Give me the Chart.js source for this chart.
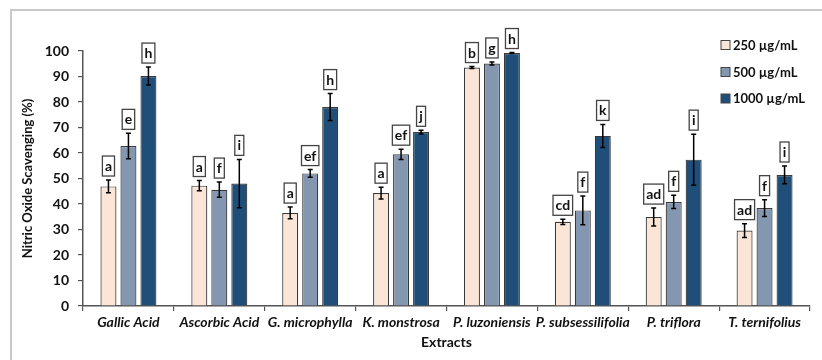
<!DOCTYPE html>
<html>
<head>
<meta charset="utf-8">
<script src="https://cdn.jsdelivr.net/npm/chart.js@4/dist/chart.umd.min.js"></script>
<style>
html,body{margin:0;padding:0;background:#fff;}
#wrap{width:822px;height:360px;position:relative;}
</style>
</head>
<body>
<div id="wrap"><canvas id="c" width="822" height="360"></canvas></div>
<script>
const categories = ['Gallic Acid','Ascorbic Acid','G. microphylla','K. monstrosa','P. luzoniensis','P. subsessilifolia','P. triflora','T. ternifolius'];
const seriesLabels = ['250 µg/mL','500 µg/mL','1000 µg/mL'];
const values250  = [46.9, 47.2, 36.5, 44.3, 93.5, 33.0, 34.9, 29.6];
const err250     = [2.5, 2.0, 2.3, 2.3, 0.4, 1.0, 3.5, 2.7];
const values500  = [62.7, 45.6, 52.0, 59.5, 95.1, 37.5, 40.8, 38.4];
const err500     = [5.0, 3.0, 1.5, 2.0, 0.6, 5.6, 2.6, 3.3];
const values1000 = [90.2, 48.0, 78.0, 68.2, 99.2, 66.7, 57.4, 51.4];
const err1000    = [3.5, 9.5, 5.3, 0.7, 0.2, 4.5, 10.0, 3.5];
const letters250  = ['a','a','a','a','b','cd','ad','ad'];
const letters500  = ['e','f','ef','ef','g','f','f','f'];
const letters1000 = ['h','i','h','j','h','k','i','i'];
const yTicks = [0,10,20,30,40,50,60,70,80,90,100];

const FONT = 'Lato, "Open Sans", "DejaVu Sans", sans-serif';
const colors = ['#FBE5D6','#8497B0','#1F4E79'];
const errs = [err250, err500, err1000];
const letters = [letters250, letters500, letters1000];

const framePlugin = {
  id: 'frame',
  beforeDraw(chart) {
    const ctx = chart.ctx;
    ctx.save();
    ctx.fillStyle = '#fff';
    ctx.fillRect(0, 0, chart.width, chart.height);
    ctx.strokeStyle = '#c8c8c8';
    ctx.lineWidth = 2;
    ctx.beginPath();
    ctx.moveTo(11, chart.height);
    ctx.lineTo(11, 10);
    ctx.lineTo(chart.width, 10);
    ctx.stroke();
    ctx.restore();
  }
};

const annotPlugin = {
  id: 'annot',
  afterDatasetsDraw(chart) {
    const ctx = chart.ctx;
    const ys = chart.scales.y;
    ctx.save();
    chart.data.datasets.forEach((ds, di) => {
      const meta = chart.getDatasetMeta(di);
      meta.data.forEach((bar, j) => {
        const v = ds.data[j];
        const e = errs[di][j];
        const x = bar.x;
        const yt = ys.getPixelForValue(v + e);
        const yb = ys.getPixelForValue(v - e);
        ctx.strokeStyle = '#000';
        ctx.lineWidth = 1.5;
        ctx.beginPath();
        ctx.moveTo(x, yt); ctx.lineTo(x, yb);
        ctx.moveTo(x - 2.5, yt); ctx.lineTo(x + 2.5, yt);
        ctx.moveTo(x - 2.5, yb); ctx.lineTo(x + 2.5, yb);
        ctx.stroke();
        const txt = letters[di][j];
        ctx.font = 'bold 14px ' + FONT;
        const tw = ctx.measureText(txt).width;
        const bw = Math.max(tw + 5, 9);
        const bh = 20;
        const bottom = yt - 4;
        const top = bottom - bh;
        ctx.fillStyle = '#fff';
        ctx.fillRect(x - bw / 2, top, bw, bh);
        ctx.strokeStyle = '#444';
        ctx.lineWidth = 1.3;
        ctx.strokeRect(x - bw / 2, top, bw, bh);
        ctx.fillStyle = '#111';
        ctx.textAlign = 'center';
        ctx.textBaseline = 'middle';
        ctx.fillText(txt, x, top + bh / 2 + 0.5);
      });
    });
    ctx.restore();
  },
  afterDraw(chart) {
    const ctx = chart.ctx;
    ctx.save();
    const rows = [45, 72, 98.5];
    chart.data.datasets.forEach((ds, di) => {
      const y = rows[di];
      ctx.fillStyle = ds.backgroundColor;
      ctx.fillRect(721, y - 4.5, 9, 9);
      ctx.strokeStyle = '#444';
      ctx.lineWidth = 1;
      ctx.strokeRect(721, y - 4.5, 9, 9);
      ctx.fillStyle = '#111';
      ctx.font = 'bold 13px ' + FONT;
      ctx.textAlign = 'left';
      ctx.textBaseline = 'middle';
      ctx.fillText(ds.label, 733, y + 0.5);
    });
    ctx.restore();
  }
};

const datasets = [values250, values500, values1000].map((vals, i) => ({
  label: seriesLabels[i],
  data: vals,
  backgroundColor: colors[i],
  borderColor: '#3a3a3a',
  borderWidth: 1.2,
  borderSkipped: 'bottom',
  categoryPercentage: 0.66,
  barPercentage: 0.8
}));

new Chart(document.getElementById('c'), {
  type: 'bar',
  data: { labels: categories, datasets },
  options: {
    responsive: false,
    animation: false,
    layout: { padding: { left: 0, top: 51, right: 12, bottom: 0 } },
    plugins: {
      legend: { display: false },
      tooltip: { enabled: false }
    },
    scales: {
      x: {
        afterFit(scale) { scale.height = 54; },
        grid: { display: true, drawOnChartArea: false, drawTicks: true, tickLength: 5, color: '#555', lineWidth: 1.2, offset: true },
        border: { display: true, color: '#555', width: 1.5 },
        ticks: { color: '#111', padding: 3, maxRotation: 0, autoSkip: false, font: { family: FONT, size: 14, weight: 'bold', style: 'italic' } },
        title: { display: true, text: 'Extracts', color: '#111', padding: { top: 0, bottom: 9 }, font: { family: FONT, size: 14, weight: 'bold' } }
      },
      y: {
        min: 0, max: 100,
        afterFit(scale) { scale.width = 83; },
        afterBuildTicks(scale) { scale.ticks = yTicks.map(v => ({ value: v })); },
        grid: { display: true, drawOnChartArea: false, drawTicks: true, tickLength: 5, color: '#555', lineWidth: 1.2 },
        border: { display: true, color: '#555', width: 1.5 },
        ticks: { color: '#111', padding: 9, font: { family: FONT, size: 14, weight: 'bold' } },
        title: { display: true, text: 'Nitric Oxide Scavenging (%)', color: '#111', padding: { top: 20, bottom: 0 }, font: { family: FONT, size: 13, weight: 'bold' } }
      }
    }
  },
  plugins: [framePlugin, annotPlugin]
});
</script>
</body>
</html>
